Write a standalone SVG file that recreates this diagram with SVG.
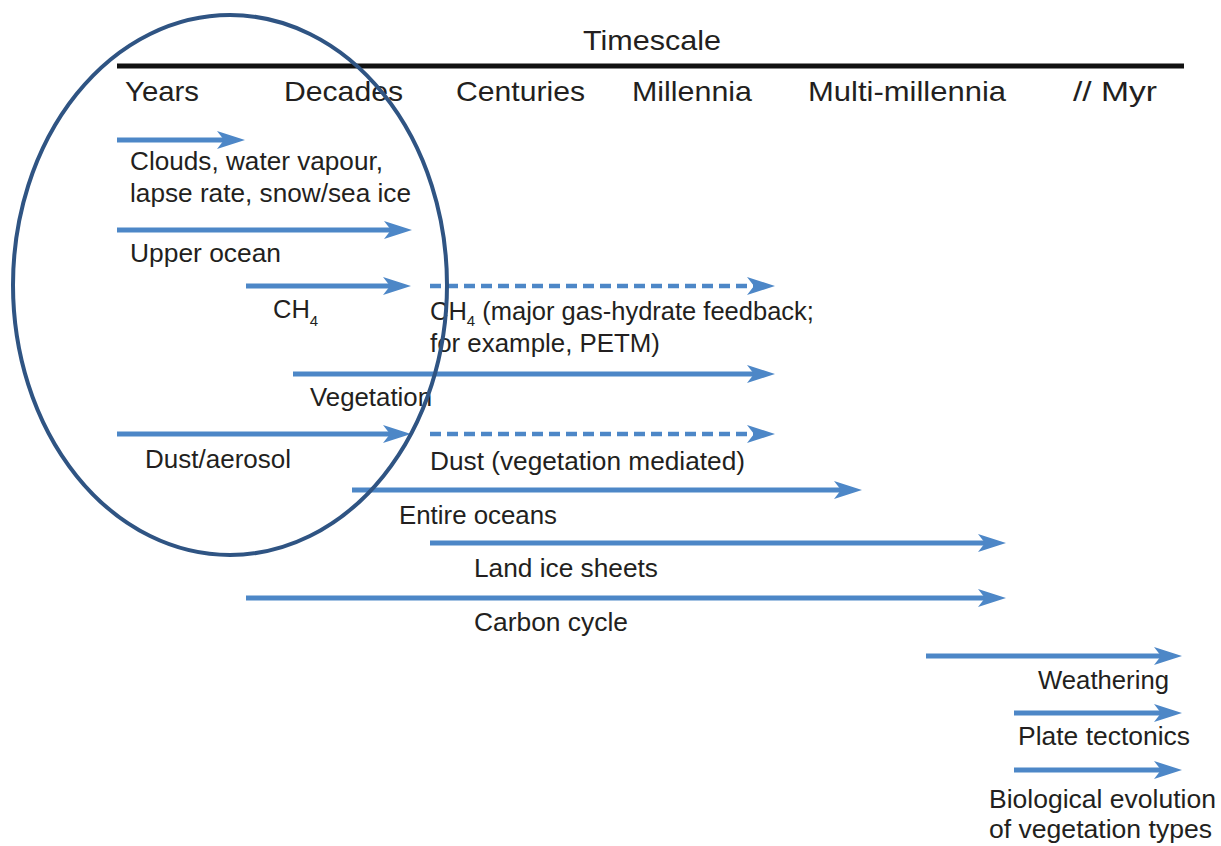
<svg xmlns="http://www.w3.org/2000/svg" width="1221" height="846" viewBox="0 0 1221 846">
<style>
.t{font-family:"Liberation Sans",Arial,sans-serif;font-size:25.5px;fill:#231f20}
.h{font-family:"Liberation Sans",Arial,sans-serif;font-size:28px;fill:#231f20}
.a{stroke:#4d87c7;stroke-width:5;fill:none;marker-end:url(#ah)}
.d{stroke:#4d87c7;stroke-width:4.5;fill:none;stroke-dasharray:11 6;marker-end:url(#ah)}
</style>
<defs>
<marker id="ah" markerUnits="userSpaceOnUse" viewBox="0 0 28 20" refX="8" refY="10" markerWidth="28" markerHeight="20" orient="auto">
<path d="M0,1 L28,10 L0,19 L7,10 z" fill="#4d87c7"/>
</marker>
</defs>
<rect width="1221" height="846" fill="#fff"/>
<g id="axis">
<text class="h" x="583" y="50" textLength="138" lengthAdjust="spacingAndGlyphs">Timescale</text>
<line x1="117" y1="66" x2="1184" y2="66" stroke="#111" stroke-width="5"/>
<text class="h" x="125" y="101" textLength="74" lengthAdjust="spacingAndGlyphs">Years</text>
<text class="h" x="284" y="101" textLength="119" lengthAdjust="spacingAndGlyphs">Decades</text>
<text class="h" x="456" y="101" textLength="129" lengthAdjust="spacingAndGlyphs">Centuries</text>
<text class="h" x="632" y="101" textLength="120" lengthAdjust="spacingAndGlyphs">Millennia</text>
<text class="h" x="808" y="101" textLength="198" lengthAdjust="spacingAndGlyphs">Multi-millennia</text>
<text class="h" x="1073" y="101" textLength="84" lengthAdjust="spacingAndGlyphs">// Myr</text>
</g>
<g id="connectors">
<path class="a" d="M117,140 H225"/>
<path class="a" d="M117,230 H392"/>
<path class="a" d="M246,286 H391"/>
<path class="d" d="M430,286 H755"/>
<path class="a" d="M293,374 H755"/>
<path class="a" d="M117,434 H391"/>
<path class="d" d="M430,434 H755"/>
<path class="a" d="M352,490 H842"/>
<path class="a" d="M430,543 H986" stroke-width="7"/>
<path class="a" d="M246,598 H986"/>
<path class="a" d="M926,656 H1162" stroke-width="6"/>
<path class="a" d="M1014,713 H1162"/>
<path class="a" d="M1014,770 H1162"/>
</g>
<g id="clouds"><text class="t" x="130" y="170" textLength="253" lengthAdjust="spacingAndGlyphs">Clouds, water vapour,</text><text class="t" x="130" y="202" textLength="281" lengthAdjust="spacingAndGlyphs">lapse rate, snow/sea ice</text></g>
<g id="upper-ocean"><text class="t" x="130" y="262" textLength="151" lengthAdjust="spacingAndGlyphs">Upper ocean</text></g>
<g id="ch4"><text class="t" x="273" y="318">CH<tspan font-size="15" dy="8">4</tspan></text></g>
<g id="ch4-major"><text class="t" x="430" y="320" font-size="26.5">CH<tspan font-size="15" dy="6">4</tspan><tspan dy="-6"> (major gas-hydrate feedback;</tspan></text><text class="t" x="430" y="352" textLength="230" lengthAdjust="spacingAndGlyphs">for example, PETM)</text></g>
<g id="vegetation"><text class="t" x="310" y="406" textLength="122" lengthAdjust="spacingAndGlyphs">Vegetation</text></g>
<g id="dust"><text class="t" x="145" y="468" textLength="146" lengthAdjust="spacingAndGlyphs">Dust/aerosol</text></g>
<g id="dust-veg"><text class="t" x="430" y="470" textLength="315" lengthAdjust="spacingAndGlyphs">Dust (vegetation mediated)</text></g>
<g id="entire-oceans"><text class="t" x="399" y="524" textLength="158" lengthAdjust="spacingAndGlyphs">Entire oceans</text></g>
<g id="land-ice"><text class="t" x="474" y="577" textLength="184" lengthAdjust="spacingAndGlyphs">Land ice sheets</text></g>
<g id="carbon"><text class="t" x="474" y="631" textLength="154" lengthAdjust="spacingAndGlyphs">Carbon cycle</text></g>
<g id="weathering"><text class="t" x="1038" y="689" textLength="131" lengthAdjust="spacingAndGlyphs">Weathering</text></g>
<g id="plate"><text class="t" x="1018" y="745" textLength="172" lengthAdjust="spacingAndGlyphs">Plate tectonics</text></g>
<g id="bio"><text class="t" x="989" y="808" textLength="227" lengthAdjust="spacingAndGlyphs">Biological evolution</text><text class="t" x="989" y="838" textLength="223" lengthAdjust="spacingAndGlyphs">of vegetation types</text></g>
<g id="highlight"><ellipse cx="230" cy="285" rx="217" ry="270" fill="none" stroke="#2f5483" stroke-width="4"/></g>
</svg>
